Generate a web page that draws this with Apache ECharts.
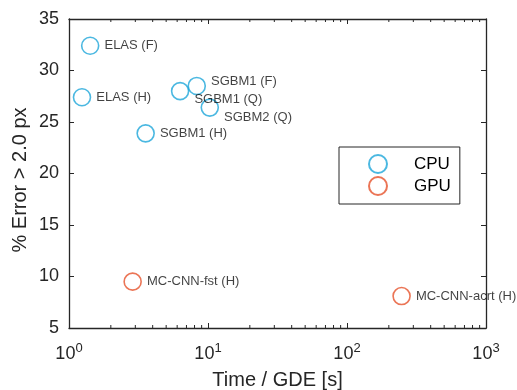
<!DOCTYPE html>
<html>
<head>
<meta charset="UTF-8">
<script src="https://cdn.jsdelivr.net/npm/echarts@6/dist/echarts.min.js"></script>
<style>
  html, body { margin: 0; padding: 0; background: #fff; }
  #main { width: 517px; height: 390px; }
</style>
</head>
<body>
<div id="main"></div>
<script>
  // data
  const cpuNames = ['ELAS (F)', 'ELAS (H)', 'SGBM1 (Q)', 'SGBM1 (F)', 'SGBM2 (Q)', 'SGBM1 (H)'];
  const cpuTime = [1.42, 1.24, 6.3, 8.3, 10.3, 3.56];
  const cpuError = [32.4, 27.4, 28.0, 28.5, 26.4, 23.9];
  const gpuNames = ['MC-CNN-fst (H)', 'MC-CNN-acrt (H)'];
  const gpuTime = [2.87, 247];
  const gpuError = [9.5, 8.1];
  const decades = [1, 10, 100];

  const txt = '#262626';
  const font = 'Liberation Sans, Arial, sans-serif';
  const cpuColor = '#1ea6da';
  const gpuColor = '#e6522c';

  // small shifts so the labels sit like in the figure
  const labelShift = { 'SGBM1 (Q)': [0, 8], 'SGBM1 (F)': [0, -5], 'SGBM2 (Q)': [0, 10] };

  function points(names, xs, ys) {
    return names.map((n, i) => {
      const p = { name: n, value: [xs[i], ys[i]] };
      if (labelShift[n]) p.label = { offset: labelShift[n] };
      return p;
    });
  }

  // minor ticks of the log axis: 2..9 in every decade
  const minor = [];
  decades.forEach(d => { for (let k = 2; k <= 9; k++) minor.push([d * k, 5]); });

  const myChart = echarts.init(document.getElementById('main'));

  const axisLine = { show: true, lineStyle: { color: txt, width: 1.3 } };
  const tick = { show: true, inside: true, length: 5, lineStyle: { color: txt, width: 1 } };

  const option = {
    animation: false,
    textStyle: { fontFamily: font },
    grid: { left: 69, right: 31, top: 19, bottom: 62, outerBoundsMode: 'none' },
    legend: {
      orient: 'vertical',
      left: 339, top: 147,
      padding: [7, 9, 8, 29],
      itemGap: 2,
      itemWidth: 18, itemHeight: 18,
      borderColor: txt, borderWidth: 1,
      data: [{ name: 'CPU', icon: 'circle' }, { name: 'GPU', icon: 'circle' }],
      textStyle: { fontSize: 17, color: '#000', padding: [0, 0, 0, 22], fontFamily: font }
    },
    xAxis: [{
      type: 'log', logBase: 10, min: 1, max: 1000,
      name: 'Time / GDE [s]', nameLocation: 'middle', nameGap: 42, nameMoveOverlap: false,
      nameTextStyle: { fontSize: 20, color: txt },
      axisLine: axisLine, axisTick: tick, splitLine: { show: false },
      axisLabel: {
        margin: 14,
        formatter: v => '{b|10}{s|' + Math.round(Math.log10(v)) + '}',
        rich: {
          b: { fontSize: 18, color: txt, fontFamily: font },
          s: { fontSize: 13, color: txt, fontFamily: font, padding: [0, 0, 12, 0] }
        }
      }
    }, {
      type: 'log', logBase: 10, min: 1, max: 1000, position: 'top',
      axisLine: axisLine, axisTick: tick, axisLabel: { show: false }, splitLine: { show: false }
    }],
    yAxis: [{
      type: 'value', min: 5, max: 35, interval: 5,
      name: '% Error > 2.0 px', nameLocation: 'middle', nameGap: 39, nameMoveOverlap: false,
      nameTextStyle: { fontSize: 20, color: txt, padding: [0, 13, 0, 0] },
      axisLine: axisLine, axisTick: tick, splitLine: { show: false },
      axisLabel: { fontSize: 18, color: txt, margin: 10 }
    }, {
      type: 'value', min: 5, max: 35, interval: 5, position: 'right',
      axisLine: axisLine, axisTick: tick, axisLabel: { show: false }, splitLine: { show: false }
    }],
    series: [{
      name: 'CPU', type: 'scatter', symbol: 'circle', symbolSize: 17,
      itemStyle: { color: 'rgba(0,0,0,0)', borderColor: cpuColor, borderWidth: 1.6 },
      label: { show: true, position: 'right', formatter: '{b}', fontSize: 13, color: '#111', fontFamily: font },
      data: points(cpuNames, cpuTime, cpuError)
    }, {
      name: 'GPU', type: 'scatter', symbol: 'circle', symbolSize: 17,
      itemStyle: { color: 'rgba(0,0,0,0)', borderColor: gpuColor, borderWidth: 1.6 },
      label: { show: true, position: 'right', formatter: '{b}', fontSize: 13, color: '#111', fontFamily: font },
      data: points(gpuNames, gpuTime, gpuError)
    }, {
      type: 'custom', silent: true,
      renderItem: function (params, api) {
        const b = api.coord([api.value(0), 5]);
        const t = api.coord([api.value(0), 35]);
        const st = { stroke: txt, lineWidth: 1 };
        return {
          type: 'group', children: [
            { type: 'line', shape: { x1: b[0], y1: b[1], x2: b[0], y2: b[1] - 3 }, style: st },
            { type: 'line', shape: { x1: t[0], y1: t[1], x2: t[0], y2: t[1] + 3 }, style: st }
          ]
        };
      },
      data: minor
    }]
  };
  myChart.setOption(option);
</script>
</body>
</html>
